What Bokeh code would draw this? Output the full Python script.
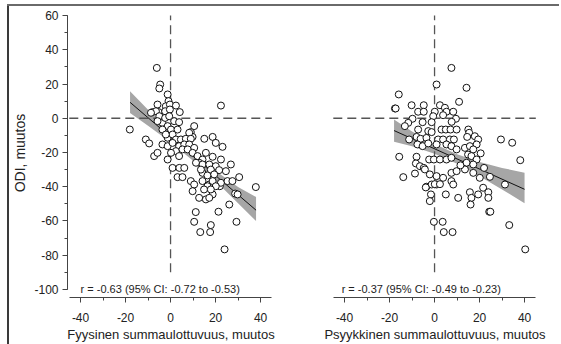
from bokeh.plotting import figure
from bokeh.layouts import row, column
from bokeh.models import SingleIntervalTicker, Label, ColumnDataSource, PrintfTickFormatter, Div
from bokeh.embed import file_html
from bokeh.resources import INLINE

# ---------------- data ----------------
fys_x = [-6.1, -4.6, -5.0, -1.3, -0.9, -5.8, -2.1, -0.3, 2.4, 22.4, -8.0, -5.3, -2.4, -0.3, 4.1,
         -18.1, -11.0, -9.5, -7.3, -5.8, -1.3, 10.5, 9.0, 9.8, 15.0, 18.7, 20.1, 23.1, 15.7, 18.7,
         22.4, 26.8, 0.9, 3.9, 6.1, 3.1, 5.3, 9.0, 10.5, 9.8, 14.2, 16.4, 14.2, 17.2, 12.7, 15.7,
         18.7, 17.2, 21.9, 22.4, 25.3, 30.5, 28.7, 29.8, 37.9, 26.1, 11.2, 21.3, 10.5, 17.9, 17.6,
         13.2, 29.3, 24.0,
         -3.6, -1.3, 1.6, 3.8, 0.2, 3.1, 8.3, -1.3, 0.9, 2.4, 4.6, 6.8, 9.0, -3.6, -1.3, 0.9, 3.8,
         6.1, 8.3, 10.5, 2.4, 5.3, 7.6, 9.8, 12.0, 14.2, 0.2, 3.8, 12.7, 14.2, 17.2, 20.1, 11.3,
         13.5, 17.9, 21.6, 24.6, 19.4, 18.7, 27.5, 16.4, 20.1, 14.9, 17.9, -6.5, -5.0, -2.4, -0.6,
         -5.8, -3.6, -2.1, -8.7]
fys_y = [29.4, 19.7, 17.4, 13.9, 10.0, 8.0, 7.0, 8.0, 7.4, 7.4, 3.6, 3.6, 4.1, 5.1, 3.6,
         -6.6, -12.4, -14.7, -22.1, -20.2, -24.1, -4.6, -8.1, -10.9, -12.0, -10.9, -14.4, -16.7,
         -20.2, -22.5, -24.1, -27.0, -29.0, -29.0, -29.0, -34.4, -34.4, -36.7, -38.7, -42.6,
         -31.9, -33.4, -36.7, -38.7, -46.5, -47.4, -44.5, -46.5, -39.7, -37.7, -36.7, -34.4,
         -44.0, -44.5, -40.2, -50.4, -54.8, -54.6, -60.5, -62.4, -66.5, -66.5, -60.5, -76.6,
         -2.7, -4.6, -1.7, -2.3, -6.6, -6.6, -8.5, -11.4, -9.5, -12.4, -12.4, -12.0, -12.0, -15.3,
         -16.3, -14.4, -16.3, -15.3, -15.3, -17.3, -19.2, -18.2, -18.2, -20.2, -22.1, -24.1, -20.2,
         -22.1, -26.0, -27.0, -27.0, -28.0, -26.0, -30.0, -30.0, -30.3, -30.9, -32.8, -36.7, -36.7,
         -39.7, -39.7, -41.6, -41.6, 4.1, 1.2, 0.2, 1.2, -1.7, -6.6, -9.5, 3.2]

psy_x = [7.5, 0.9, 14.2, -15.9, 10.9, -17.6, -17.3, -10.2, -4.8, -7.3, -4.8, 0.1, 2.4, 4.6, 5.3,
         8.3, -0.6, 3.8, 9.5, 7.6, -9.8, -11.7, -13.2, -5.3, -1.3, -7.3, -2.8, -1.3, 3.1, 5.0, 7.1,
         9.8, 15.0, 15.4, 14.5, 17.9, 19.4, 18.7, 29.5, 34.5, 38.1, -11.3, -8.0, -6.2, -3.6, -7.6,
         -5.3, -2.8, 1.6, 3.8, 6.8, 8.6, 0.9, 5.3, 7.5, 9.8, -15.7, -8.0, -8.3, -6.5, -4.8, -2.4,
         -0.3, 2.4, 5.3, 7.5, 13.5, 15.7, 17.2, 14.9, 16.4, 18.7, 14.2, 17.2, -13.9, -8.7, -4.3,
         -2.1, 0.9, 3.8, 7.5, 9.8, 13.5, 17.2, 20.1, 24.6, 31.3, -3.6, -1.3, 0.9, 7.5, 8.3, -1.6,
         -2.1, 5.0, 10.5, 15.7, 16.4, 16.0, 19.4, 21.6, 23.9, 23.9, 24.3, 24.8, 33.2, -0.3, 3.6,
         4.1, 8.0, 40.3, 0.1, 2.4, -3.9, 11.5, 20.5, 22.0]
psy_y = [29.4, 19.7, 17.8, 13.9, 9.6, 5.7, 5.7, 7.6, 7.6, 3.8, 3.8, 3.8, 7.6, 6.1, 3.8,
         3.8, 1.2, 1.8, -0.3, -2.1, -0.3, -2.7, -4.6, -2.3, -2.3, -6.6, -7.5, -8.1, -6.6, -6.6,
         -6.6, -6.6, -6.6, -8.5, -10.9, -10.5, -12.4, -15.3, -12.4, -14.3, -24.5, -12.4, -10.9,
         -12.0, -11.5, -15.3, -16.3, -14.7, -12.4, -12.4, -12.4, -12.4, -15.3, -15.3, -16.3, -18.2,
         -22.5, -22.5, -26.4, -28.0, -29.0, -24.1, -24.1, -24.1, -24.1, -23.1, -17.3, -16.3, -18.2,
         -21.2, -22.1, -24.1, -26.0, -27.0, -34.4, -32.3, -29.9, -32.8, -33.8, -34.8, -31.9, -30.9,
         -29.9, -31.9, -34.8, -34.2, -38.7, -40.0, -38.7, -38.7, -36.7, -38.7, -44.5, -48.4, -44.5,
         -46.5, -43.2, -46.5, -50.4, -44.5, -40.6, -43.2, -46.5, -54.6, -54.6, -62.4, -60.5, -60.5,
         -66.5, -66.5, -76.6, -38.5, -38.5, -40.4, -27.5, -20.5, -29.0]

# regression fits and 95% confidence bands
fys_fit_x = [-18, 38]
fys_fit_y = [9.3, -53.7]
fys_band_x = [-18, -10, 0, 10, 20, 30, 38]
fys_band_lo = [3.0, -4.4, -14.0, -24.8, -36.6, -49.6, -60.0]
fys_band_hi = [15.8, 5.0, -8.0, -19.8, -30.6, -40.2, -46.0]

psy_fit_x = [-18, 40]
psy_fit_y = [-7.2, -41.5]
psy_band_x = [-18, -10, 0, 10, 20, 30, 40]
psy_band_lo = [-13.8, -16.3, -20.7, -26.6, -33.9, -41.6, -49.6]
psy_band_hi = [-0.8, -7.7, -15.1, -21.0, -25.5, -29.0, -31.8]

fys_label = "r = -0.63 (95% CI: -0.72 to -0.53)"
psy_label = "r = -0.37 (95% CI: -0.49 to -0.23)"
x_titles = ["Fyysinen summaulottuvuus, muutos", "Psyykkinen summaulottuvuus, muutos"]
y_title = "ODI, muutos"

# reference lines
REF_X = 0
REF_Y = 0
REF_V_TOP = 60
REF_V_BOTTOM = -90
REF_H_LEFT = -45
REF_H_RIGHT = 45

FONT = "Liberation Sans"
TXT = "#222222"
AX = "#444444"


def style_axis(a):
    a.ticker = SingleIntervalTicker(interval=20, num_minor_ticks=2)
    a.formatter = PrintfTickFormatter(format="%d")
    a.axis_line_color = AX
    a.major_tick_line_color = AX
    a.minor_tick_line_color = AX
    a.major_tick_out = 5
    a.major_tick_in = 0
    a.minor_tick_out = 3
    a.minor_tick_in = 0
    a.major_label_text_font = FONT
    a.major_label_text_font_size = "12px"
    a.major_label_text_color = TXT
    a.major_label_standoff = 4
    a.axis_label_text_font = FONT
    a.axis_label_text_font_size = "13px"
    a.axis_label_text_font_style = "normal"
    a.axis_label_text_color = TXT


def make_panel(xs, ys, fit_x, fit_y, bx, blo, bhi, label, lab_x, xtitle, show_y, mbl, mbr):
    p = figure(output_backend="svg", toolbar_location=None,
               frame_width=207, frame_height=289,
               x_range=(-45.8, 46.2), y_range=(-104.7, 64.1),
               min_border_left=mbl, min_border_right=mbr,
               min_border_top=2, min_border_bottom=42)
    p.outline_line_color = None
    p.grid.visible = False
    p.background_fill_color = "white"
    p.border_fill_color = "white"

    p.varea(x=bx, y1=blo, y2=bhi, fill_color="#a6a6a6", fill_alpha=1.0)
    p.line(fit_x, fit_y, line_color="#111111", line_width=1)

    p.segment(x0=[REF_X], y0=[REF_V_BOTTOM], x1=[REF_X], y1=[REF_V_TOP],
              line_color="#555555", line_width=1.3, line_dash="9 5")
    p.segment(x0=[REF_H_LEFT], y0=[REF_Y], x1=[REF_H_RIGHT], y1=[REF_Y],
              line_color="#555555", line_width=1.3, line_dash="9 5")

    src = ColumnDataSource(dict(x=xs, y=ys))
    p.scatter("x", "y", source=src, size=7, marker="circle",
              fill_color="white", line_color="#111111", line_width=1)

    p.add_layout(Label(x=lab_x, y=-100, text=label,
                       text_font=FONT, text_font_size="11px", text_color=TXT,
                       text_baseline="middle", text_align="left"))

    xa = p.xaxis[0]
    style_axis(xa)
    xa.bounds = (-45, 45)
    xa.major_label_standoff = 10
    xa.axis_label = xtitle
    xa.axis_label_standoff = 2

    ya = p.yaxis[0]
    if show_y:
        style_axis(ya)
        ya.bounds = (-100, 60)
        ya.axis_label = y_title
        ya.axis_label_text_font_size = "14px"
        ya.axis_label_standoff = 3
    else:
        ya.visible = False
    return p


p1 = make_panel(fys_x, fys_y, fys_fit_x, fys_fit_y, fys_band_x, fys_band_lo, fys_band_hi,
                fys_label, -40, x_titles[0], True, 57, 22)
p2 = make_panel(psy_x, psy_y, psy_fit_x, psy_fit_y, psy_band_x, psy_band_lo, psy_band_hi,
                psy_label, -41.3, x_titles[1], False, 35, 8)

top_rule = Div(text="", width=552, height=2, margin=(4, 0, 0, 7),
               styles={"background-color": "#6a6a6a"})
plots = row(p1, p2, margin=(0, 0, 0, 7),
            styles={"border-left": "2px solid #3a3a3a"})
layout = column(top_rule, plots, spacing=0)

open("out.html", "w").write(file_html(layout, INLINE))
